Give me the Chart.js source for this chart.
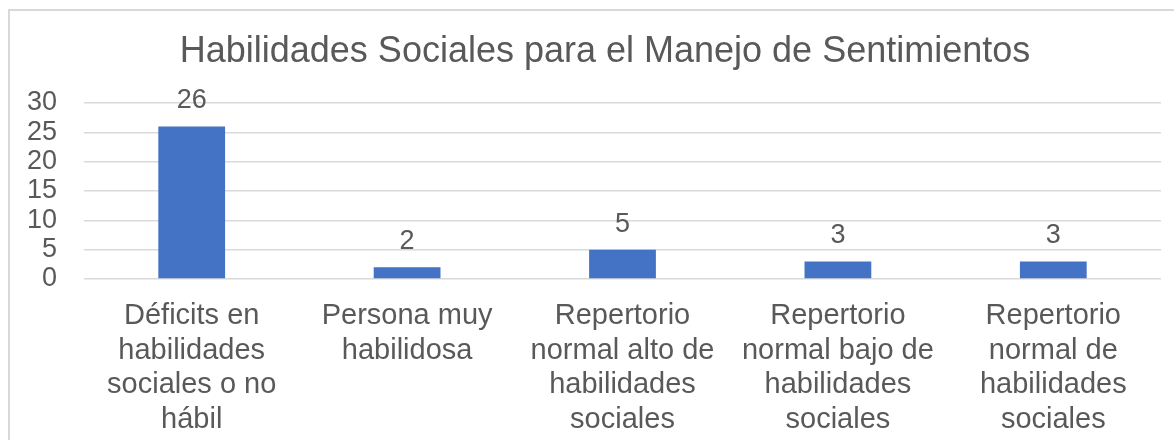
<!DOCTYPE html>
<html>
<head>
<meta charset="utf-8">
<script src="https://cdn.jsdelivr.net/npm/chart.js@4"></script>
<style>
  html, body { margin: 0; padding: 0; background: #fff; overflow: hidden; }
  #wrap { position: relative; width: 1174px; height: 440px; overflow: hidden; }
  #frame {
    position: absolute; left: 8px; top: 9px; width: 1220px; height: 480px;
    border: 2px solid #d9d9d9; box-sizing: border-box;
  }
  #chart { position: absolute; left: 0; top: 0; }
</style>
</head>
<body>
<div id="wrap">
  <div id="frame"></div>
  <canvas id="chart" width="1174" height="440"></canvas>
</div>
<script>
// Habilidades sociales - manejo de sentimientos
const chartTitle = "Habilidades Sociales para el Manejo de Sentimientos";
const categories = [
  ["Déficits en", "habilidades", "sociales o no", "hábil"],
  ["Persona muy", "habilidosa"],
  ["Repertorio", "normal alto de", "habilidades", "sociales"],
  ["Repertorio", "normal bajo de", "habilidades", "sociales"],
  ["Repertorio", "normal de", "habilidades", "sociales"],
];
const values = [26, 2, 5, 3, 3];
const yTicks = [0, 5, 10, 15, 20, 25, 30];

const textColor = "#595959";
const fontFamily = "'Liberation Sans', Arial, sans-serif";

// title sits a bit right of the canvas middle, like the original
const titleText = {
  id: "titleText",
  afterDraw(chart) {
    const { ctx } = chart;
    ctx.save();
    ctx.font = `36px ${fontFamily}`;
    ctx.fillStyle = textColor;
    ctx.textAlign = "center";
    ctx.textBaseline = "alphabetic";
    ctx.fillText(chartTitle, 605, 62);
    ctx.restore();
  },
};

// draws the number above each bar
const valueLabels = {
  id: "valueLabels",
  afterDatasetsDraw(chart) {
    const { ctx } = chart;
    const meta = chart.getDatasetMeta(0);
    ctx.save();
    ctx.font = `27px ${fontFamily}`;
    ctx.fillStyle = textColor;
    ctx.textAlign = "center";
    ctx.textBaseline = "alphabetic";
    meta.data.forEach((bar, i) => {
      ctx.fillText(String(values[i]), bar.x, bar.y - 18);
    });
    ctx.restore();
  },
};

new Chart(document.getElementById("chart"), {
  type: "bar",
  data: {
    labels: categories,
    datasets: [
      {
        data: values,
        backgroundColor: "#4472c4",
        borderWidth: 0,
        categoryPercentage: 1,
        barPercentage: 0.31,
      },
    ],
  },
  options: {
    responsive: false,
    animation: false,
    layout: { padding: { left: 0, right: 13, top: 103, bottom: 0 } },
    plugins: {
      legend: { display: false },
      tooltip: { enabled: false },
      title: { display: false },
    },
    scales: {
      x: {
        grid: { display: false, drawTicks: false },
        border: { display: false },
        ticks: {
          color: textColor,
          padding: 20,
          maxRotation: 0,
          autoSkip: false,
          font: { family: fontFamily, size: 29, lineHeight: 1.19 },
        },
        afterFit(scale) {
          scale.height = 161;
        },
      },
      y: {
        min: 0,
        max: 30,
        grid: { color: "#d9d9d9", lineWidth: 1.5, drawTicks: false },
        border: { display: false },
        afterBuildTicks(scale) {
          scale.ticks = yTicks.map((v) => ({ value: v }));
        },
        ticks: {
          color: textColor,
          padding: 27,
          autoSkip: false,
          font: { family: fontFamily, size: 27 },
        },
        afterFit(scale) {
          scale.width = 84;
        },
      },
    },
  },
  plugins: [valueLabels, titleText],
});
</script>
</body>
</html>
